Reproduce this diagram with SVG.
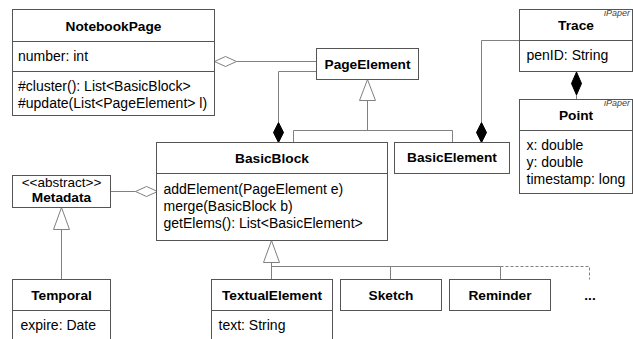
<svg xmlns="http://www.w3.org/2000/svg" width="633" height="339" viewBox="0 0 633 339">
  <style>
    .box { fill: #ffffff; stroke: #555555; stroke-width: 1; }
    .sep { stroke: #555555; stroke-width: 1; fill: none; }
    .t { font-family: "Liberation Sans", Arial, sans-serif; font-size: 14px; fill: #000000; }
    .b { font-weight: bold; text-anchor: middle; font-size: 13.7px; }
    .s { font-size: 13.5px; text-anchor: middle; }
    .tag { font-family: "Liberation Sans", Arial, sans-serif; font-size: 9px; font-style: italic; fill: #444444; text-anchor: end; }
    .ln { stroke: #808080; stroke-width: 1; fill: none; }
    .dash { stroke: #808080; stroke-width: 1; fill: none; stroke-dasharray: 3 2; }
    .hollow { fill: #ffffff; stroke: #808080; stroke-width: 1; }
    .solid { fill: #000000; stroke: #000000; stroke-width: 1; }
  </style>

  <!-- connectors -->
  <g id="connectors">
    <!-- aggregation: NotebookPage holds PageElements -->
    <path class="ln" d="M236.5 61.5 H316.5"/>
    <polygon class="hollow" points="214.5,61.5 225.5,56.5 236.5,61.5 225.5,66.5"/>
    <!-- composition: BasicBlock holds PageElements -->
    <path class="ln" d="M316.5 71.5 H278.5 V122"/>
    <polygon class="solid" points="278.5,122.5 283.5,132.5 278.5,142.5 273.5,132.5"/>
    <!-- generalization: BasicBlock, BasicElement extend PageElement -->
    <polygon class="hollow" points="367.5,79.5 375.5,100.5 359.5,100.5"/>
    <path class="ln" d="M367.5 100.5 V130.5 M293.5 142.5 V130.5 H452.5 V142.5"/>
    <!-- composition: BasicElement holds Traces -->
    <path class="ln" d="M519.5 40.5 H481.5 V122"/>
    <polygon class="solid" points="481.5,122.5 486.5,132.5 481.5,142.5 476.5,132.5"/>
    <!-- composition: Trace holds Points -->
    <polygon class="solid" points="576.5,72 581.5,83.5 576.5,95 571.5,83.5"/>
    <path class="ln" d="M576.5 95 V99.5"/>
    <!-- aggregation: BasicBlock holds Metadata -->
    <path class="ln" d="M110.5 191.5 H135.5"/>
    <polygon class="hollow" points="135.5,191.5 146.5,186.5 157.5,191.5 146.5,196.5"/>
    <!-- generalization: Temporal extends Metadata -->
    <polygon class="hollow" points="61.5,207.5 69.5,229.5 53.5,229.5"/>
    <path class="ln" d="M61.5 229.5 V279.5"/>
    <!-- generalization: element kinds extend BasicBlock -->
    <polygon class="hollow" points="271.5,240.5 279.5,262.5 263.5,262.5"/>
    <path class="ln" d="M271.5 262.5 V279.5 M271.5 266.5 H500.5 V279.5 M390.5 266.5 V279.5"/>
    <path class="dash" d="M500.5 266.5 H589.5 V279.5"/>
  </g>

  <!-- NotebookPage -->
  <g id="NotebookPage">
    <rect class="box" x="12.5" y="9.5" width="202" height="106"/>
    <path class="sep" d="M12.5 41.5 H214.5 M12.5 71.5 H214.5"/>
    <text class="t b" x="113.5" y="30.5">NotebookPage</text>
    <text class="t" x="18" y="60.5">number: int</text>
    <text class="t" x="18" y="91">#cluster(): List&lt;BasicBlock&gt;</text>
    <text class="t" x="18" y="107.5">#update(List&lt;PageElement&gt; l)</text>
  </g>

  <!-- PageElement -->
  <g id="PageElement">
    <rect class="box" x="316.5" y="48.5" width="102" height="31"/>
    <text class="t b" x="367.5" y="69">PageElement</text>
  </g>

  <!-- Trace -->
  <g id="Trace">
    <rect class="box" x="519.5" y="9.5" width="113" height="62"/>
    <path class="sep" d="M519.5 40.5 H632.5"/>
    <text class="tag" x="630" y="16">iPaper</text>
    <text class="t b" x="576" y="29.5">Trace</text>
    <text class="t" x="526.5" y="60">penID: String</text>
  </g>

  <!-- Point -->
  <g id="Point">
    <rect class="box" x="519.5" y="99.5" width="113" height="94"/>
    <path class="sep" d="M519.5 130.5 H632.5"/>
    <text class="tag" x="630" y="106">iPaper</text>
    <text class="t b" x="576" y="119.5">Point</text>
    <text class="t" x="526.5" y="149.5">x: double</text>
    <text class="t" x="526.5" y="166.5">y: double</text>
    <text class="t" x="526.5" y="183.5">timestamp: long</text>
  </g>

  <!-- BasicBlock -->
  <g id="BasicBlock">
    <rect class="box" x="156.5" y="142.5" width="231" height="98"/>
    <path class="sep" d="M156.5 173.5 H387.5"/>
    <text class="t b" x="272" y="162.5">BasicBlock</text>
    <text class="t" x="163.5" y="194">addElement(PageElement e)</text>
    <text class="t" x="163.5" y="211">merge(BasicBlock b)</text>
    <text class="t" x="163.5" y="227.5">getElems(): List&lt;BasicElement&gt;</text>
  </g>

  <!-- BasicElement -->
  <g id="BasicElement">
    <rect class="box" x="394.5" y="142.5" width="115" height="31"/>
    <text class="t b" x="452" y="162">BasicElement</text>
  </g>

  <!-- Metadata -->
  <g id="Metadata">
    <rect class="box" x="12.5" y="175.5" width="98" height="32"/>
    <text class="t s" x="61.5" y="187">&lt;&lt;abstract&gt;&gt;</text>
    <text class="t b" x="61.5" y="202">Metadata</text>
  </g>

  <!-- Temporal -->
  <g id="Temporal">
    <rect class="box" x="12.5" y="279.5" width="98" height="70"/>
    <path class="sep" d="M12.5 310.5 H110.5"/>
    <text class="t b" x="61.5" y="299.5">Temporal</text>
    <text class="t" x="20.5" y="330">expire: Date</text>
  </g>

  <!-- TextualElement -->
  <g id="TextualElement">
    <rect class="box" x="211.5" y="279.5" width="121" height="70"/>
    <path class="sep" d="M211.5 310.5 H332.5"/>
    <text class="t b" x="272" y="299.5">TextualElement</text>
    <text class="t" x="218.5" y="330">text: String</text>
  </g>

  <!-- Sketch -->
  <g id="Sketch">
    <rect class="box" x="340.5" y="279.5" width="101" height="31"/>
    <text class="t b" x="391" y="299.5">Sketch</text>
  </g>

  <!-- Reminder -->
  <g id="Reminder">
    <rect class="box" x="449.5" y="279.5" width="101" height="31"/>
    <text class="t b" x="500" y="299.5">Reminder</text>
  </g>

  <!-- further subclasses -->
  <g id="More">
    <text class="t b" x="590" y="299.5">...</text>
  </g>
</svg>
